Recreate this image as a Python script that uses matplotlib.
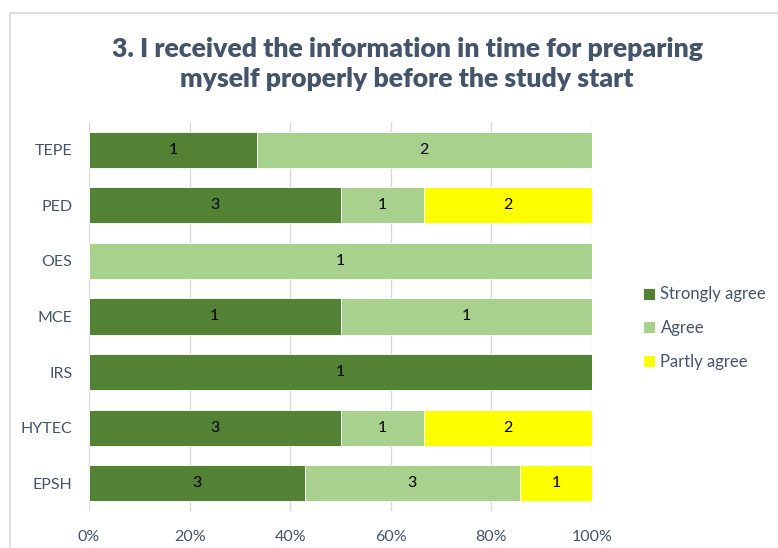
import matplotlib
matplotlib.use("Agg")
import matplotlib.pyplot as plt
from matplotlib.patches import Rectangle
import numpy as np

categories = ["EPSH", "HYTEC", "IRS", "MCE", "OES", "PED", "TEPE"]
strongly_agree = [3, 3, 1, 1, 0, 3, 1]
agree = [3, 1, 0, 1, 1, 1, 2]
partly_agree = [1, 2, 0, 0, 0, 2, 0]
series_names = ["Strongly agree", "Agree", "Partly agree"]
colors = ["#548235", "#A9D18E", "#FFFF00"]
xticks_labels = ["0%", "20%", "40%", "60%", "80%", "100%"]
title = "3. I received the information in time for preparing\nmyself properly before the study start"

plt.rcParams['font.family'] = ['Lato', 'DejaVu Sans']
W, H = 778, 548
fig = plt.figure(figsize=(W / 100, H / 100), dpi=100)
fig.patch.set_facecolor("white")

# chart border
fig.add_artist(Rectangle((10 / W, -0.1), 1.2, 1 - 13 / H + 0.1, transform=fig.transFigure,
                         fill=False, edgecolor="#D9D9D9", linewidth=1.2))

ax = fig.add_axes([89 / W, 1 - 511 / H, (592 - 89) / W, (511 - 122) / H])
data = np.array([strongly_agree, agree, partly_agree], dtype=float)
totals = data.sum(axis=0)
pct = data / totals * 100
y = np.arange(len(categories))
left = np.zeros(len(categories))
for i, name in enumerate(series_names):
    ax.barh(y, pct[i], left=left, height=0.65, color=colors[i], label=name,
            edgecolor="white", linewidth=0.6, zorder=3)
    for j in range(len(categories)):
        if data[i, j] > 0:
            ax.text(left[j] + pct[i, j] / 2, y[j], f"{int(data[i, j])}", ha="center", va="center",
                    fontsize=11.5, color="black", zorder=4)
    left += pct[i]

ax.set_xlim(0, 100)
ax.set_ylim(-0.5, len(categories) - 0.5)
ax.set_xticks(np.linspace(0, 100, 6))
ax.set_xticklabels(xticks_labels)
ax.set_yticks(y)
ax.set_yticklabels(categories)
ax.tick_params(axis="both", length=0, labelsize=11.5, colors="#44546A", labelcolor="#44546A")
ax.tick_params(axis="x", pad=14)
ax.tick_params(axis="y", pad=12)
for s in ax.spines.values():
    s.set_visible(False)
ax.grid(axis="x", color="#D9D9D9", linewidth=1, zorder=0)
ax.set_axisbelow(True)

fig.text(407 / W, 1 - 64 / H, title, ha="center", va="center", fontsize=19.2,
         fontweight="heavy", color="#44546A", linespacing=1.27)

leg = fig.legend(loc="center left", bbox_to_anchor=(628 / W, 1 - 328 / H), frameon=False,
                 fontsize=12, handlelength=0.7, handleheight=0.7, handletextpad=0.35,
                 labelspacing=1.05, labelcolor="#44546A")

fig.savefig("out.png", dpi=100)
